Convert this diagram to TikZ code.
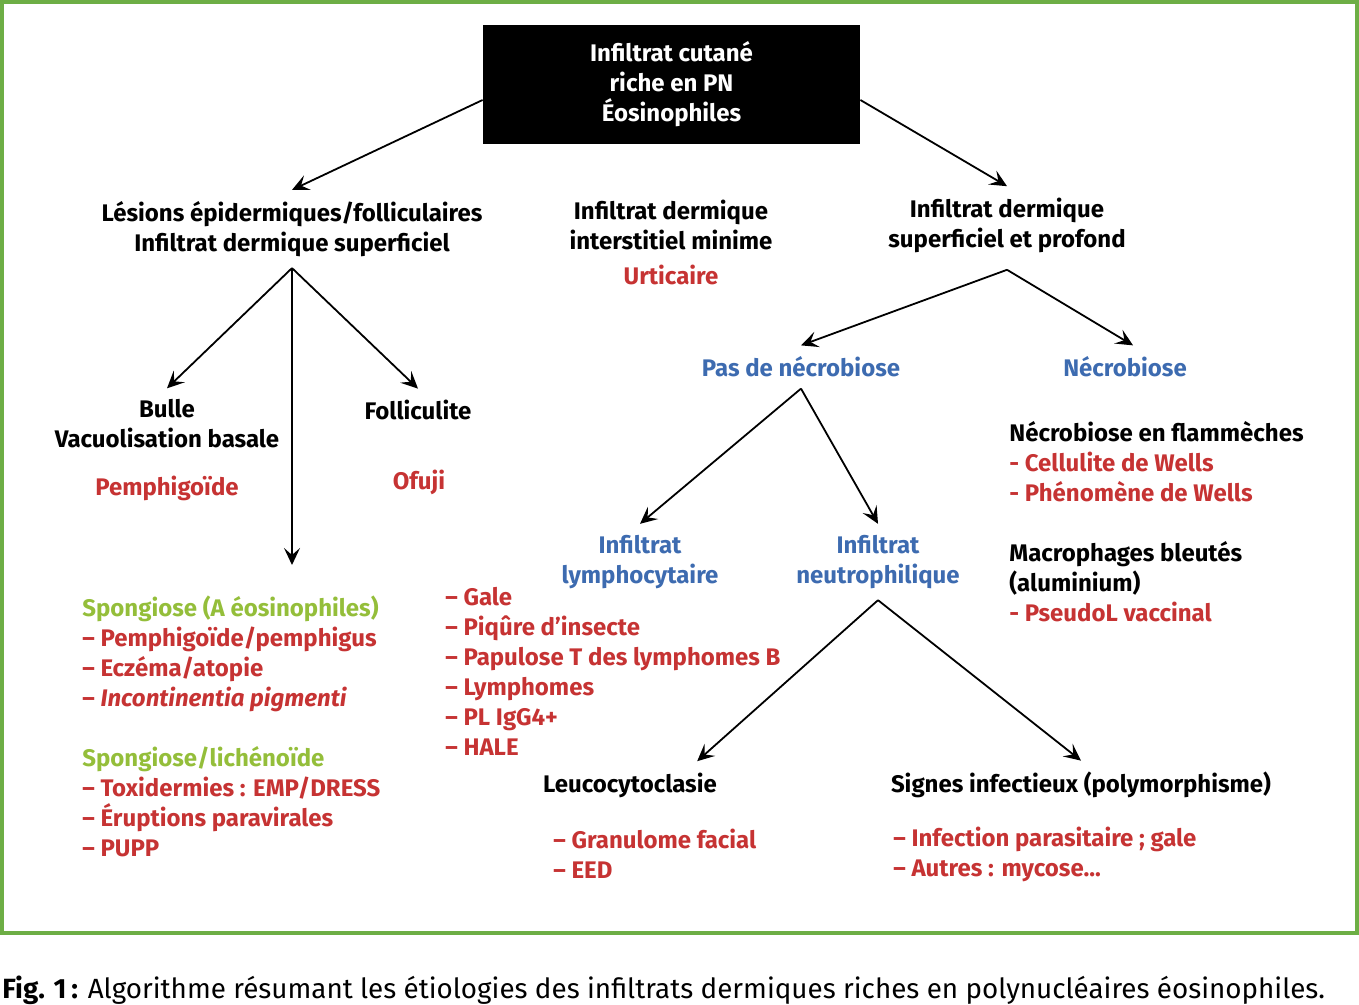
\documentclass[tikz,border=0pt]{standalone}
\usepackage{fontspec}
\setmainfont{Fira Sans}
\usetikzlibrary{arrows.meta,calc}
\definecolor{framegreen}{RGB}{109,174,69}
\definecolor{dxred}{RGB}{198,51,51}
\definecolor{dxblue}{RGB}{61,107,176}
\definecolor{dxgreen}{RGB}{148,190,58}

\begin{document}
\begin{tikzpicture}[x=0.5pt,y=-0.5pt,
    lbl/.style={font=\fontsize{12}{15}\selectfont\bfseries, align=center, inner xsep=0pt, inner ysep=5.5pt},
    lst/.style={lbl, align=left, anchor=west},
    dx/.style={lbl, text=dxred},
    grp/.style={lbl, text=dxblue},
    arr/.style={-{Stealth[length=8.5pt,width=8pt,inset=3.5pt]}, line width=0.9pt}]
    \useasboundingbox (0,0) rectangle (1359,1005);

    %frame and caption
        \draw[framegreen, line width=2pt] (2,2) rectangle (1357,933);
        \node[anchor=west, inner sep=0pt, font=\fontsize{13.9}{15}\selectfont] (caption) at (2,990)
            {\textbf{Fig. 1\,:} Algorithme résumant les étiologies des infiltrats dermiques riches en polynucléaires éosinophiles.};

    %top box and first level
        \node[lbl, fill=black, text=white, minimum width=188.5pt, minimum height=59.5pt] (top) at (671.5,84.5)
            {\rule{0pt}{9.5pt}Infiltrat cutané\\riche en PN\\Éosinophiles};
        \node[lbl] (epid) at (292,229) {Lésions épidermiques/folliculaires\\Infiltrat dermique superficiel};
        \node[lbl] (inter) at (671,225) {Infiltrat dermique\\interstitiel minime};
        \node[dx] (urti) at (671,275) {Urticaire};
        \node[lbl] (deep) at (1007,225) {Infiltrat dermique\\superficiel et profond};

    %left branch
        \node[lbl] (bulle) at (167,424) {Bulle\\Vacuolisation basale};
        \node[dx] (pemph) at (167,488) {Pemphigoïde};
        \node[lbl] (follic) at (418,410) {Folliculite};
        \node[dx] (ofuji) at (419,482) {Ofuji};
        \coordinate (spong) at (292,565);
        \node[lst] (sponglist) at (82,726) {\textcolor{dxgreen}{Spongiose (A éosinophiles)}\\
            \textcolor{dxred}{– Pemphigoïde/pemphigus}\\
            \textcolor{dxred}{– Eczéma/atopie}\\
            \textcolor{dxred}{– \textit{Incontinentia pigmenti}}\\[15pt]
            \textcolor{dxgreen}{Spongiose/lichénoïde}\\
            \textcolor{dxred}{– Toxidermies : EMP/DRESS}\\
            \textcolor{dxred}{– Éruptions paravirales}\\
            \textcolor{dxred}{– PUPP}};

    %right branch
        \node[grp] (nonecro) at (801,367) {Pas de nécrobiose};
        \node[grp] (necro) at (1125,367) {Nécrobiose};
        \node[lst] (necrolist) at (1009,522) {Nécrobiose en flammèches\\
            \textcolor{dxred}{- Cellulite de Wells}\\
            \textcolor{dxred}{- Phénomène de Wells}\\[15pt]
            Macrophages bleutés\\
            (aluminium)\\
            \textcolor{dxred}{- PseudoL vaccinal}};
        \node[grp] (lympho) at (640,562) {Infiltrat\\lymphocytaire};
        \node[grp] (neutro) at (878,562) {Infiltrat\\neutrophilique};
        \node[lst, text=dxred] (galelist) at (445,671) {– Gale\\– Piqûre d’insecte\\– Papulose T des lymphomes B\\– Lymphomes\\– PL IgG4+\\– HALE};
        \node[lbl] (leuco) at (630,785) {Leucocytoclasie};
        \node[lst, text=dxred] (leucolist) at (553,854) {– Granulome facial\\– EED};
        \node[lbl] (infect) at (1081,785) {Signes infectieux (polymorphisme)};
        \node[lst, text=dxred] (infectlist) at (893,854) {– Infection parasitaire ; gale\\– Autres : mycose...};

    %arrows
        \draw[arr] ([yshift=-7.75pt]top.west) -- (epid.north);
        \draw[arr] ([yshift=-7.75pt]top.east) -- (deep.north);
        \draw[arr] (epid.south) -- (bulle.north);
        \draw[arr] (epid.south) -- (spong);
        \draw[arr] (epid.south) -- (follic.north);
        \draw[arr] ([yshift=-3pt]deep.south) -- (nonecro.north);
        \draw[arr] ([yshift=-3pt]deep.south) -- ([xshift=4pt]necro.north);
        \draw[arr] (nonecro.south) -- (lympho.north);
        \draw[arr] (nonecro.south) -- (neutro.north);
        \draw[arr] (neutro.south) -- ($(leuco.north east)+(-20,0)$);
        \draw[arr] (neutro.south) -- (infect.north);
\end{tikzpicture}
\end{document}
